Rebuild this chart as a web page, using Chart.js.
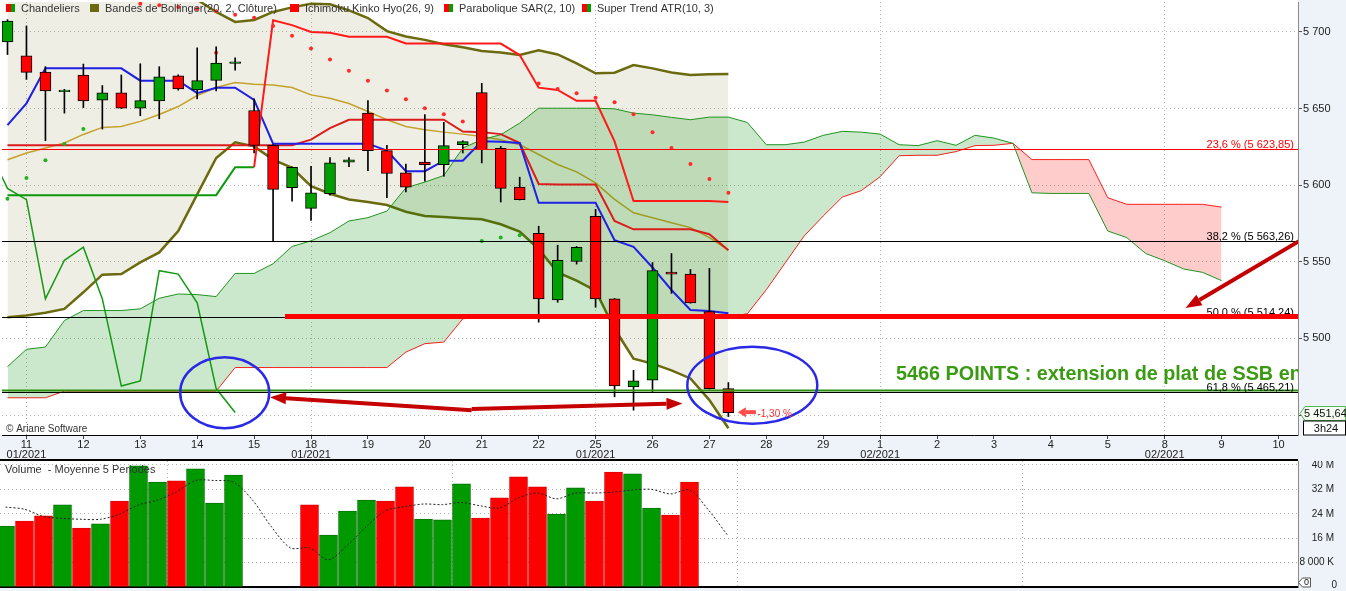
<!DOCTYPE html>
<html lang="fr">
<head>
<meta charset="utf-8">
<title>Chandeliers – Ichimoku</title>
<script src="https://cdn.jsdelivr.net/npm/chart.js@4.4.1/dist/chart.umd.min.js"></script>
<style>
html,body{margin:0;padding:0;background:#fff;overflow:hidden;}
#wrap{position:relative;width:1346px;height:591px;}
canvas{position:absolute;left:0;display:block;}
#main{top:0;}
#vol{top:461px;}
</style>
</head>
<body>
<div id="wrap">
<canvas id="main" width="1346" height="461"></canvas>
<canvas id="vol" width="1346" height="130"></canvas>
</div>
<script>
const FONT = "'Liberation Sans', Arial, sans-serif";
Chart.defaults.font.family = FONT;
Chart.defaults.font.size = 11;

// ---------- axes (bar index: 3 bars per trading day, index 0 = last bar of 08/01/2021)
const X_MIN = -0.2895, X_MAX = 68.026;
const Y_MIN = 5437, Y_MAX = 5719.5;
const V_MAX = 41.3;

const dayTickIdx = [1,4,7,10,13,16,19,22,25,28,31,34,37,40,43,46,49,52,55,58,61,64,67];
const dayLabels = ['11','12','13','14','15','18','19','20','21','22','25','26','27','28','29','1','2','3','4','5','8','9','10'];
const monthLabels = ['01/2021','','','','','01/2021','','','','','01/2021','','','','','02/2021','','','','','02/2021','',''];
const mondayIdx = [1,16,31,46,61];
const priceTicks = [5450,5500,5550,5600,5650,5700];
const volTicks = [0,8,16,24,32,40];
const volTickLabels = ['0','8 000 K','16 M','24 M','32 M','40 M'];

// ---------- candles
const opens  = [5693.4,5684.4,5673.8,5661.0,5671.9,5655.4,5660.2,5650.2,5655.0,5671.4,5662.1,5668.4,5679.5,5648.7,5626.0,5598.3,5584.9,5594.4,5615.0,5647.0,5622.5,5608.0,5615.1,5613.4,5626.4,5660.4,5624.0,5598.7,5568.6,5525.1,5550.2,5579.7,5525.8,5468.4,5472.7,5543.3,5542.0,5517.5,5467.3];
const highs  = [5708.0,5703.9,5677.3,5662.5,5679.0,5665.0,5671.9,5679.2,5677.3,5672.0,5689.6,5690.3,5683.0,5656.3,5626.5,5612.0,5612.3,5618.0,5618.0,5655.2,5626.0,5613.8,5646.0,5641.0,5629.0,5666.4,5625.3,5605.2,5573.2,5560.8,5560.0,5584.2,5526.0,5479.2,5549.5,5555.4,5545.0,5545.7,5471.2];
const lows   = [5685.2,5669.0,5629.0,5647.0,5650.6,5636.6,5650.0,5645.3,5643.3,5662.0,5656.3,5661.5,5675.0,5621.0,5563.2,5589.6,5577.0,5593.5,5612.0,5609.5,5591.8,5595.6,5602.6,5605.8,5621.0,5614.5,5589.0,5590.3,5510.6,5523.6,5548.5,5520.3,5461.9,5453.2,5465.2,5529.4,5523.0,5467.0,5449.0];
const closes = [5707.0,5673.6,5661.5,5662.0,5655.0,5660.2,5650.2,5655.2,5670.6,5662.8,5668.2,5679.7,5680.5,5626.0,5597.2,5611.7,5595.0,5614.5,5616.5,5622.5,5607.6,5598.7,5613.4,5625.8,5628.4,5623.2,5597.9,5590.5,5525.8,5551.0,5559.5,5525.8,5469.0,5472.3,5544.2,5542.0,5523.2,5467.3,5451.64];

// ---------- Bollinger (20, 2)
const bbUpper = [5722,5727,5731.7,5735.7,5736.1,5733.8,5734.6,5733.6,5736.1,5732.5,5721,5713,5706.5,5707.8,5713,5716,5718.4,5718,5714,5709,5700.5,5697,5694.8,5692,5690,5687.5,5686.5,5685,5688,5685.3,5679.5,5673,5673.4,5678.4,5676.2,5673.5,5671.9,5672.3,5672.5];
const bbMid   = [5616.6,5621.0,5624.2,5627.5,5633.1,5637.7,5638.3,5641.6,5646.1,5651.3,5658.5,5663.7,5666.9,5665.8,5665.4,5663.7,5658.9,5656.7,5653.3,5648.1,5642.7,5638.3,5636.2,5634.6,5633.3,5631.8,5629.7,5626.4,5620.0,5613.5,5608.7,5601.5,5590.7,5582.0,5578.8,5575.5,5572.3,5565.8,5557.6];
const bbLower = [5513.9,5515.0,5516.7,5519.3,5530.1,5541.6,5542.0,5549.6,5556.1,5570.1,5594.0,5617.7,5627.9,5625.3,5616.7,5611.3,5599.4,5594.4,5590.7,5589.0,5587.0,5582.7,5579.9,5579.2,5578.4,5577.7,5574.5,5569.7,5558.3,5543.1,5537.7,5531.2,5506.3,5486.8,5483.6,5479.2,5473.9,5459.8,5441.4];

// ---------- Ichimoku (26, 9)
const tenkan = [5639.2,5653.4,5676.2,5676.2,5676.2,5676.2,5676.2,5668.2,5668.2,5668.2,5660.0,5663.6,5663.6,5655.6,5627.1,5627.1,5627.1,5627.1,5627.1,5627.1,5622.5,5609.1,5609.1,5616.0,5616.0,5628.6,5628.3,5627.5,5588.5,5588.5,5588.5,5588.5,5564.1,5559.7,5546.3,5531.6,5518.6,5517.9,5516.4];
const kijun  = [5626,5626,5626,5626,5626,5626,5626,5626,5626,5626,5626,5626,5626,5626,5626,5626,5629.7,5637.2,5642.7,5642.7,5642.7,5642.7,5642.7,5642.7,5635.0,5634.6,5633.3,5627.5,5600.8,5600.4,5600.4,5600.4,5576.6,5571.2,5571.2,5571.2,5571.2,5568.0,5557.6];
const chikouStart = -1;
const chikou = [5623.2,5597.9,5590.5,5525.8,5551.0,5559.5,5525.8,5469.0,5472.3,5544.2,5542.0,5523.2,5467.3,5451.64];
const ssa = [5481.6,5492.9,5494.4,5511.7,5518.2,5518.2,5518.2,5519.3,5526.2,5529.0,5528.6,5527.3,5542.4,5542.4,5548.7,5560.0,5563.7,5569.0,5576.6,5578.8,5583.1,5598.3,5602.0,5606.3,5624.2,5629.7,5632.9,5640.5,5650.2,5650.2,5650.2,5650.2,5649.8,5647.0,5645.9,5644.2,5642.7,5644.4,5644.4,5640.9,5626.4,5626.4,5628.1,5632.5,5635.1,5634.6,5633.3,5626.4,5625.8,5629.0,5626.0,5632.5,5630.7,5627.3,5595.0,5594.6,5594.6,5594.6,5570.1,5565.8,5555.4,5550.7,5545.3,5543.1,5537.7];
const ssb = [5461.3,5461.3,5461.3,5465.6,5465.6,5465.6,5465.6,5465.6,5465.6,5465.6,5465.6,5465.6,5481.0,5481.0,5481.0,5481.0,5481.0,5481.0,5481.0,5481.0,5481.0,5491.1,5496.6,5497.6,5512.8,5514.2,5514.2,5514.2,5514.2,5514.2,5514.2,5514.2,5514.2,5514.2,5514.2,5514.2,5514.2,5514.2,5514.2,5516.1,5531.8,5549.4,5566.9,5579.9,5592.2,5596.4,5605.5,5619.2,5619.5,5619.5,5621.9,5625.8,5626.0,5627.3,5616.7,5616.7,5616.7,5616.7,5591.8,5587.5,5587.5,5587.5,5587.5,5587.5,5585.7];

// ---------- Parabolic SAR (2, 10)
const sarUp   = [5591.1,5604.7,5616.2,5626.8,5636.6,null,null,null,null,null,null,null,null,null,null,null,null,null,null,null,null,null,null,null,null,5563.6,5565.8,5567.3,null,null,null,null,null,null,null,null,null,null,null];
const sarDown = [null,null,null,null,null,5723,5721,5718.4,5717.3,5716.2,5715.0,5713.4,5711.2,5709.3,5703.9,5697.4,5689.2,5682.0,5674.7,5668.2,5661.7,5656.0,5650.2,5646.3,5641.5,null,null,null,5666.4,5662.8,5659.9,5657.1,5654.1,5646.3,5634.6,5624.2,5613.8,5604.1,5595.0];
const sarExtraX = [11];
const sarExtraY = [5686.4];

// ---------- Super Trend ATR (10, 3)
const stUp   = [5593.5,5593.5,5593.5,5593.5,5593.5,5593.5,5593.5,5593.5,5593.5,5593.5,5593.5,5593.5,5611.7,5611.7,null,null,null,null,null,null,null,null,null,null,null,null,null,null,null,null,null,null,null,null,null,null,null,null,null];
const stDown = [null,null,null,null,null,null,null,null,null,null,null,null,null,5611.7,5707.6,5704.4,5700.0,5699.5,5696.8,5696.8,5696.8,5692.4,5692.4,5692.4,5692.4,5692.4,5692.4,5684.9,5663.6,5662.1,5655.0,5655.0,5628.6,5589.6,5589.6,5589.6,5589.6,5589.6,5589.0];

// ---------- Volume (millions) and 5-period average
const volumes = [20.0,21.6,23.3,26.9,19.3,20.7,28.2,39.7,34.4,34.8,38.7,27.5,36.7,null,null,null,26.9,17.0,24.9,28.5,28.2,32.8,22.3,22.0,33.8,22.6,29.2,36.1,32.8,23.9,32.5,28.2,37.7,37.1,25.9,23.6,34.4,null,null];
const volUp   = [1,0,0,1,0,1,0,1,1,0,1,1,1,0,0,0,0,1,1,1,0,0,1,1,1,0,0,0,0,1,1,0,0,1,1,0,0,0,0];
const volMA   = [26.2,25.5,23.1,22.5,22.2,22.2,23.9,26.9,28.5,31.2,34.9,34.9,34.4,28.5,19.7,12.8,12.8,8.9,13.8,19.8,25.0,26.3,27.2,27.0,27.7,26.6,25.9,29.2,30.8,28.9,30.8,30.8,31.1,31.8,32.0,30.5,31.8,25.2,17.0];

// ---------- Fibonacci levels & annotations (data coordinates)
const fibLevels = [5623.85, 5563.26, 5514.24, 5465.21];
const fibTexts  = ['23,6 % (5 623,85)', '38,2 % (5 563,26)', '50,0 % (5 514,24)', '61,8 % (5 465,21)'];
const fibColors = ['#ff0000', '#000000', '#000000', '#000000'];
const ssbFlatLevel = 5514.24, ssbFlatFrom = 14.63;
const targetLevel = 5466.1;
const noteText = '5466 POINTS : extension de plat de SSB en';
const noteAt = [46.84, 5473.0];
const lastPrice = 5451.64;
const lastChangeText = '-1,30 %';
const lastChangeAt = [39.53, 5450.6];
const smallArrow = [39.45, 5451.9, 38.5, 5451.9];
const ellipses = [[11.45, 5464.6, 44.5, 35.5], [39.26, 5469.5, 65, 38.5]];
const bigArrows = [[68.1, 5563.6, 62.1, 5519.8], [24.47, 5453.2, 13.84, 5461.7], [24.47, 5453.9, 35.58, 5457.6]];

// ---------- helpers
function fmtNum(v, dec) {
  const s = v.toFixed(dec);
  const parts = s.split('.');
  const ip = parts[0].replace(/\B(?=(\d{3})+(?!\d))/g, ' ');
  return parts[1] ? ip + ',' + parts[1] : ip;
}
const pts = (arr, start) => arr.map((v, i) => ({x: i + (start || 0), y: v}));
function lineDs(arr, color, width, order, extra, start) {
  return Object.assign({type: 'line', data: pts(arr, start), borderColor: color, borderWidth: width,
    pointRadius: 0, pointHoverRadius: 0, tension: 0, fill: false, order: order, spanGaps: false}, extra || {});
}
function dotDs(data, color, order) {
  return {type: 'line', data: data, showLine: false, pointRadius: 2, pointHoverRadius: 0,
    pointBackgroundColor: color, pointBorderWidth: 0, borderColor: color, order: order};
}
function zeroPad(s) { s.paddingTop = 0; s.paddingBottom = 0; s.paddingLeft = 0; s.paddingRight = 0; }
function arrow(ctx, x1, y1, x2, y2, w, hl, hw, col) {
  const a = Math.atan2(y2 - y1, x2 - x1);
  const bx = x2 - hl * Math.cos(a), by = y2 - hl * Math.sin(a);
  ctx.strokeStyle = col; ctx.lineWidth = w; ctx.lineCap = 'butt';
  ctx.beginPath(); ctx.moveTo(x1, y1); ctx.lineTo(bx, by); ctx.stroke();
  ctx.fillStyle = col; ctx.beginPath(); ctx.moveTo(x2, y2);
  ctx.lineTo(bx + hw / 2 * Math.sin(a), by - hw / 2 * Math.cos(a));
  ctx.lineTo(bx - hw / 2 * Math.sin(a), by + hw / 2 * Math.cos(a));
  ctx.closePath(); ctx.fill();
}

const BAND = '#eef2f9';
const bgPlugin = {
  id: 'bg',
  beforeDraw(chart) {
    const {ctx, chartArea: a, width: W, height: H} = chart;
    ctx.save();
    ctx.fillStyle = '#ffffff'; ctx.fillRect(0, 0, W, H);
    ctx.fillStyle = BAND;
    ctx.fillRect(0, a.bottom, W, H - a.bottom);
    ctx.fillRect(a.right, 0, W - a.right, H);
    ctx.restore();
  }
};

const annotPlugin = {
  id: 'annot',
  afterDatasetsDraw(chart) {
    const {ctx, chartArea: a, scales: {x, y}} = chart;
    const X = v => x.getPixelForValue(v), Y = v => y.getPixelForValue(v);
    ctx.save();
    ctx.beginPath(); ctx.rect(a.left, a.top, a.right - a.left, a.bottom - a.top); ctx.clip();
    fibLevels.forEach((lv, k) => {
      const py = Math.round(Y(lv)) + 0.5;
      ctx.strokeStyle = fibColors[k]; ctx.lineWidth = 1;
      ctx.beginPath(); ctx.moveTo(a.left, py); ctx.lineTo(a.right, py); ctx.stroke();
    });
    ctx.strokeStyle = '#2f8f10'; ctx.lineWidth = 2;
    const ty = Y(targetLevel);
    ctx.beginPath(); ctx.moveTo(a.left, ty); ctx.lineTo(a.right, ty); ctx.stroke();
    ctx.font = '11px ' + FONT; ctx.textAlign = 'right'; ctx.textBaseline = 'alphabetic';
    fibLevels.forEach((lv, k) => {
      ctx.fillStyle = fibColors[k];
      ctx.fillText(fibTexts[k], a.right - 4, Math.round(Y(lv)) - 1);
    });
    ctx.strokeStyle = '#ff0000'; ctx.lineWidth = 5;
    const sy = Y(ssbFlatLevel);
    ctx.beginPath(); ctx.moveTo(X(ssbFlatFrom), sy); ctx.lineTo(a.right, sy); ctx.stroke();
    ctx.font = 'bold 19.8px ' + FONT; ctx.textAlign = 'left'; ctx.textBaseline = 'alphabetic';
    ctx.fillStyle = '#3a9b12';
    ctx.fillText(noteText, X(noteAt[0]), Y(noteAt[1]));
    ctx.strokeStyle = '#2a2ae6'; ctx.lineWidth = 2.5;
    ellipses.forEach(e => {
      ctx.beginPath(); ctx.ellipse(X(e[0]), Y(e[1]), e[2], e[3], 0, 0, Math.PI * 2); ctx.stroke();
    });
    bigArrows.forEach(r => arrow(ctx, X(r[0]), Y(r[1]), X(r[2]), Y(r[3]), 4, 16, 12, '#c40000'));
    arrow(ctx, X(smallArrow[0]), Y(smallArrow[1]), X(smallArrow[2]), Y(smallArrow[3]), 4, 8, 10, '#ff4a4a');
    ctx.font = '10px ' + FONT; ctx.fillStyle = '#ff3030'; ctx.textBaseline = 'middle';
    ctx.fillText(lastChangeText, X(lastChangeAt[0]), Y(lastChangeAt[1]));
    ctx.fillStyle = '#333'; ctx.font = '10px ' + FONT;
    ctx.fillText('© Ariane Software', 6, a.bottom - 6);
    ctx.restore();
  },
  afterDraw(chart) {
    const {ctx, chartArea: a, scales: {y}, width: W} = chart;
    ctx.save();
    const items = [
      ['Chandeliers', ['#ff0000', '#00a000'], 6],
      ['Bandes de Bollinger(20, 2, Clôture)', ['#6b6a0e'], 90],
      ['Ichimoku Kinko Hyo(26, 9)', ['#ff0000'], 290],
      ['Parabolique SAR(2, 10)', ['#ff0000', '#00a000'], 444],
      ['Super Trend ATR(10, 3)', ['#ff0000', '#00a000'], 582]
    ];
    ctx.font = '11px ' + FONT; ctx.textAlign = 'left'; ctx.textBaseline = 'middle';
    items.forEach(it => {
      const lx = it[2];
      if (it[1].length === 2) {
        ctx.fillStyle = it[1][0]; ctx.fillRect(lx, 4, 5, 8);
        ctx.fillStyle = it[1][1]; ctx.fillRect(lx + 5, 4, 4, 8);
      } else { ctx.fillStyle = it[1][0]; ctx.fillRect(lx, 4, 9, 8); }
      ctx.fillStyle = '#333'; ctx.fillText(it[0], lx + 15, 9);
    });
    const py = Math.round(y.getPixelForValue(lastPrice)) + 0.5;
    ctx.beginPath();
    ctx.moveTo(a.right + 2, py); ctx.lineTo(a.right + 7, py - 7); ctx.lineTo(W - 0.5, py - 7);
    ctx.lineTo(W - 0.5, py + 7); ctx.lineTo(a.right + 7, py + 7); ctx.closePath();
    ctx.fillStyle = '#f3fbf1'; ctx.fill(); ctx.strokeStyle = '#52b452'; ctx.lineWidth = 1; ctx.stroke();
    ctx.fillStyle = '#111'; ctx.textAlign = 'left';
    ctx.fillText(fmtNum(lastPrice, 2), a.right + 6, py + 0.5);
    ctx.fillStyle = '#fff'; ctx.fillRect(a.right + 5.5, py + 7.5, W - a.right - 6, 14);
    ctx.strokeStyle = '#000'; ctx.strokeRect(a.right + 5.5, py + 7.5, W - a.right - 6, 14);
    ctx.fillStyle = '#111'; ctx.textAlign = 'center';
    ctx.fillText('3h24', a.right + 28, py + 15);
    ctx.fillStyle = '#000'; ctx.fillRect(0, chart.height - 2, a.right, 2);
    ctx.restore();
  }
};

// ---------- main chart
const mainDatasets = [
  lineDs(bbUpper, '#6b6a0e', 2.5, 20, {fill: 1, backgroundColor: 'rgba(150,140,80,0.15)'}),
  lineDs(bbLower, '#6b6a0e', 2.5, 19),
  lineDs(bbMid, '#c4a22a', 1.5, 18),
  lineDs(ssb, '#ff2020', 1, 17),
  lineDs(ssa, '#1f951f', 1, 16, {fill: {target: 3, above: 'rgba(0,140,0,0.2)', below: 'rgba(255,0,0,0.2)'}}),
  lineDs(chikou, '#139a13', 1.5, 15, null, chikouStart),
  lineDs(kijun, '#dc1c1c', 2, 14),
  lineDs(tenkan, '#1f1fe6', 2, 13),
  lineDs(stUp, '#0a9a0a', 2, 12),
  lineDs(stDown, '#ff1a1a', 2, 11),
  dotDs(pts(sarUp), '#22b022', 10),
  dotDs(pts(sarDown), '#ff2a2a', 9),
  dotDs(sarExtraX.map((v, k) => ({x: v, y: sarExtraY[k]})), '#ff2a2a', 9),
  {type: 'bar', data: lows.map((l, i) => ({x: i, y: [l, highs[i]]})), backgroundColor: '#000',
    borderWidth: 0, barThickness: 1, grouped: false, order: 2},
  {type: 'bar', data: opens.map((o, i) => ({x: i, y: [o, closes[i]]})),
    backgroundColor: opens.map((o, i) => closes[i] >= o ? '#00a000' : '#ff0000'),
    borderColor: '#000', borderWidth: 1, borderSkipped: false, barThickness: 11, grouped: false, order: 1}
];

new Chart(document.getElementById('main'), {
  type: 'line',
  data: {datasets: mainDatasets},
  options: {
    responsive: false, animation: false, devicePixelRatio: 1, events: [],
    layout: {padding: 0},
    plugins: {legend: {display: false}, tooltip: {enabled: false}, title: {display: false}},
    scales: {
      x: {
        type: 'linear', min: X_MIN, max: X_MAX, offset: false, bounds: 'data',
        afterBuildTicks: s => { s.ticks = dayTickIdx.map(v => ({value: v})); },
        afterFit: s => { s.height = 26; zeroPad(s); },
        grid: {color: c => (c.tick && mondayIdx.includes(c.tick.value)) ? '#b4b4b4' : 'rgba(0,0,0,0)',
          lineWidth: 1, tickColor: '#444', tickLength: 4, drawTicks: true, offset: false},
        border: {display: true, color: '#000', width: 1, dash: [1, 3]},
        ticks: {autoSkip: false, maxRotation: 0, minRotation: 0, padding: 1, color: '#222',
          font: {size: 11, lineHeight: 0.9},
          callback: (v, idx) => monthLabels[idx] ? [dayLabels[idx], monthLabels[idx]] : dayLabels[idx]}
      },
      y: {
        type: 'linear', position: 'right', min: Y_MIN, max: Y_MAX, bounds: 'data',
        afterBuildTicks: s => { s.ticks = priceTicks.map(v => ({value: v})); },
        afterFit: s => { s.width = 48; zeroPad(s); },
        grid: {color: '#b4b4b4', lineWidth: 1, tickColor: '#555', tickLength: 4},
        border: {display: true, color: '#8a8a8a', width: 1, dash: [1, 3]},
        ticks: {autoSkip: false, padding: 1, color: '#222', crossAlign: 'near', font: {size: 11},
          callback: v => v === 5450 ? '' : fmtNum(v, 0)}
      }
    }
  },
  plugins: [bgPlugin, annotPlugin]
});

// ---------- volume chart
const volPlugin = {
  id: 'volAnnot',
  afterDraw(chart) {
    const {ctx, chartArea: a, scales: {y}} = chart;
    ctx.save();
    ctx.font = '11px ' + FONT; ctx.fillStyle = '#333'; ctx.textAlign = 'left'; ctx.textBaseline = 'middle';
    ctx.fillText('Volume  - Moyenne 5 Periodes', 5, 9);
    // axis labels (right aligned)
    ctx.font = '10px ' + FONT; ctx.fillStyle = '#222'; ctx.textAlign = 'right';
    volTicks.forEach((v, k) => {
      const ly = Math.min(y.getPixelForValue(v), chart.height - 6);
      ctx.fillText(volTickLabels[k], k === 0 ? a.right + 39 : a.right + 36, ly);
    });
    const zy = Math.round(y.getPixelForValue(0)) - 4.5;
    ctx.beginPath();
    ctx.moveTo(a.right + 0.5, zy); ctx.lineTo(a.right + 4.5, zy - 4.5); ctx.lineTo(a.right + 12.5, zy - 4.5);
    ctx.lineTo(a.right + 12.5, zy + 4.5); ctx.lineTo(a.right + 4.5, zy + 4.5); ctx.closePath();
    ctx.fillStyle = '#fff'; ctx.fill(); ctx.strokeStyle = '#555'; ctx.lineWidth = 1; ctx.stroke();
    ctx.fillStyle = '#111'; ctx.font = '9px ' + FONT; ctx.textAlign = 'left';
    ctx.fillText('0', a.right + 6, zy + 0.5);
    ctx.restore();
  }
};

new Chart(document.getElementById('vol'), {
  type: 'line',
  data: {datasets: [
    {type: 'line', data: pts(volMA), borderColor: '#222', borderWidth: 1, borderDash: [2, 2],
      pointRadius: 0, pointHoverRadius: 0, tension: 0.3, fill: false, order: 0},
    {type: 'bar', data: pts(volumes),
      backgroundColor: volUp.map(u => u ? '#009a00' : '#ff0000'),
      borderColor: volUp.map(u => u ? '#007400' : '#d80000'),
      borderWidth: 1, borderSkipped: false, barThickness: 18, grouped: false, order: 1}
  ]},
  options: {
    responsive: false, animation: false, devicePixelRatio: 1, events: [],
    layout: {padding: 0},
    plugins: {legend: {display: false}, tooltip: {enabled: false}},
    scales: {
      x: {
        type: 'linear', min: X_MIN, max: X_MAX, offset: false, bounds: 'data',
        afterBuildTicks: s => { s.ticks = mondayIdx.map(v => ({value: v})); },
        afterFit: s => { s.height = 4; zeroPad(s); },
        grid: {color: '#b4b4b4', lineWidth: 1, drawTicks: false},
        border: {display: true, color: '#000', width: 2, dash: [1, 3]},
        ticks: {display: false}
      },
      y: {
        type: 'linear', position: 'right', min: 0, max: V_MAX, bounds: 'data',
        afterBuildTicks: s => { s.ticks = volTicks.map(v => ({value: v})); },
        afterFit: s => { s.width = 48; zeroPad(s); },
        grid: {color: '#b4b4b4', lineWidth: 1, drawTicks: false},
        border: {display: true, color: '#8a8a8a', width: 1, dash: [1, 3]},
        ticks: {display: false}
      }
    }
  },
  plugins: [bgPlugin, volPlugin]
});
</script>
</body>
</html>
